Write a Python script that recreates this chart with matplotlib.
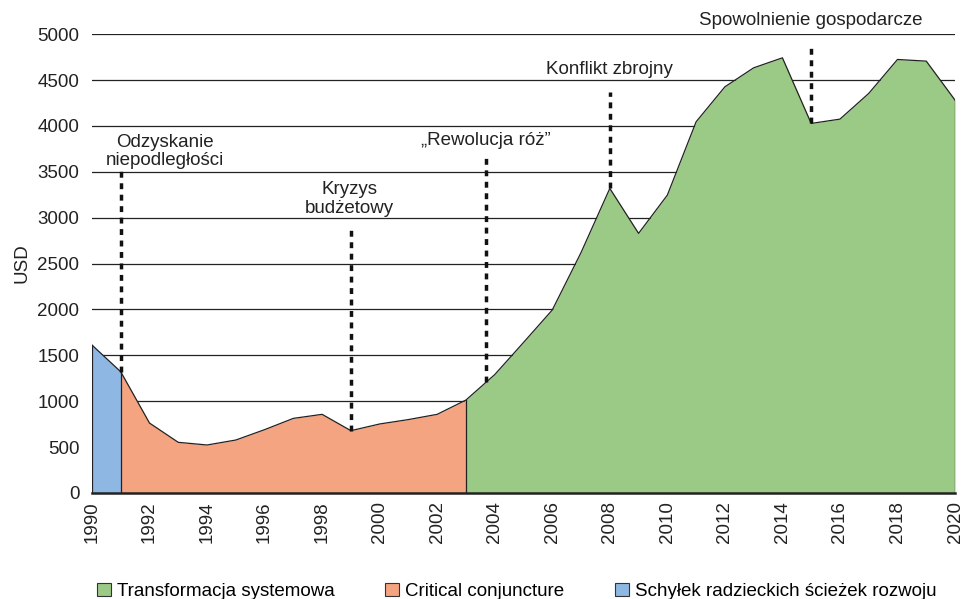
import numpy as np
import matplotlib.pyplot as plt
from matplotlib.patches import Patch

plt.rcParams['font.family'] = ['Liberation Sans', 'DejaVu Sans']

years = list(range(1990, 2021))
gdp_usd = [1612, 1321, 762, 552, 523, 577, 690, 813, 857, 679,
           752, 800, 857, 1013, 1290, 1640, 1994, 2620, 3319, 2829,
           3246, 4045, 4426, 4633, 4742, 4027, 4074, 4354, 4724, 4706,
           4281]

# phases: (start year, end year, label, colour)
phases = [
    (2003, 2020, 'Transformacja systemowa', '#9bc986'),
    (1991, 2003, 'Critical conjuncture', '#f4a480'),
    (1990, 1991, 'Schyłek radzieckich ścieżek rozwoju', '#8eb8e3'),
]

# events: line year, top of the dashed line, text and where it sits
event_year = [1991, 1999, 2003.7, 2008, 2015]
event_top = [3520, 2870, 3660, 4370, 4880]
event_text = ['Odzyskanie\nniepodległości', 'Kryzys\nbudżetowy', '„Rewolucja róż”',
              'Konflikt zbrojny', 'Spowolnienie gospodarcze']
text_x = [1992.55, 1998.95, 2003.68, 2007.97, 2014.97]
text_y = [3530, 3010, 3750, 4520, 5060]

years = np.array(years)
gdp_usd = np.array(gdp_usd)

fig = plt.figure(figsize=(9.64, 5.99), dpi=100)
ax = fig.add_axes([0.0954, 0.177, 0.8953, 0.766])

for y in range(500, 5001, 500):
    ax.axhline(y, color='#222222', lw=0.9, zorder=1)

for start, end, label, color in phases:
    m = (years >= start) & (years <= end)
    ax.fill_between(years[m], 0, gdp_usd[m], color=color, zorder=2, lw=0)

ax.plot(years, gdp_usd, color='#222222', lw=0.9, zorder=3)
for yr in [1990, 1991, 2003, 2020]:
    val = gdp_usd[years == yr][0]
    ax.plot([yr, yr], [0, val], color='#222222', lw=0.9, zorder=3)

for yr, top in zip(event_year, event_top):
    val = np.interp(yr, years, gdp_usd)
    ax.plot([yr, yr], [val, top], color='#111111', lw=2.5, ls=(0, (1.7, 1.6)),
            zorder=4, clip_on=False)

for t, tx, ty in zip(event_text, text_x, text_y):
    ax.text(tx, ty, t, ha='center', va='bottom', fontsize=13.5,
            color='#222222', linespacing=1.1, clip_on=False)

ax.set_xlim(1990, 2020)
ax.set_ylim(0, 5000)
ax.set_xticks(range(1990, 2021, 2))
ax.set_xticklabels([str(y) for y in range(1990, 2021, 2)], rotation=90)
ax.set_yticks(range(0, 5001, 500))
ax.tick_params(axis='both', length=0, labelsize=13.5, colors='#222222')
ax.tick_params(axis='y', pad=9)
ax.tick_params(axis='x', pad=6)
ax.set_ylabel('USD', fontsize=13.5, color='#222222', labelpad=5)

for side in ['top', 'right', 'left']:
    ax.spines[side].set_visible(False)
ax.spines['bottom'].set_linewidth(1.8)
ax.spines['bottom'].set_color('#222222')
ax.spines['bottom'].set_zorder(5)

handles = [Patch(facecolor=c, edgecolor='#333333', lw=0.8) for _, _, _, c in phases]
labels = [l for _, _, l, _ in phases]
fig.legend(handles, labels, loc='lower center', bbox_to_anchor=(0.536, -0.03),
           ncol=3, frameon=False, fontsize=13.5, handlelength=0.75, handleheight=0.75,
           handletextpad=0.3, columnspacing=2.7)

fig.savefig('out.png', dpi=100)
